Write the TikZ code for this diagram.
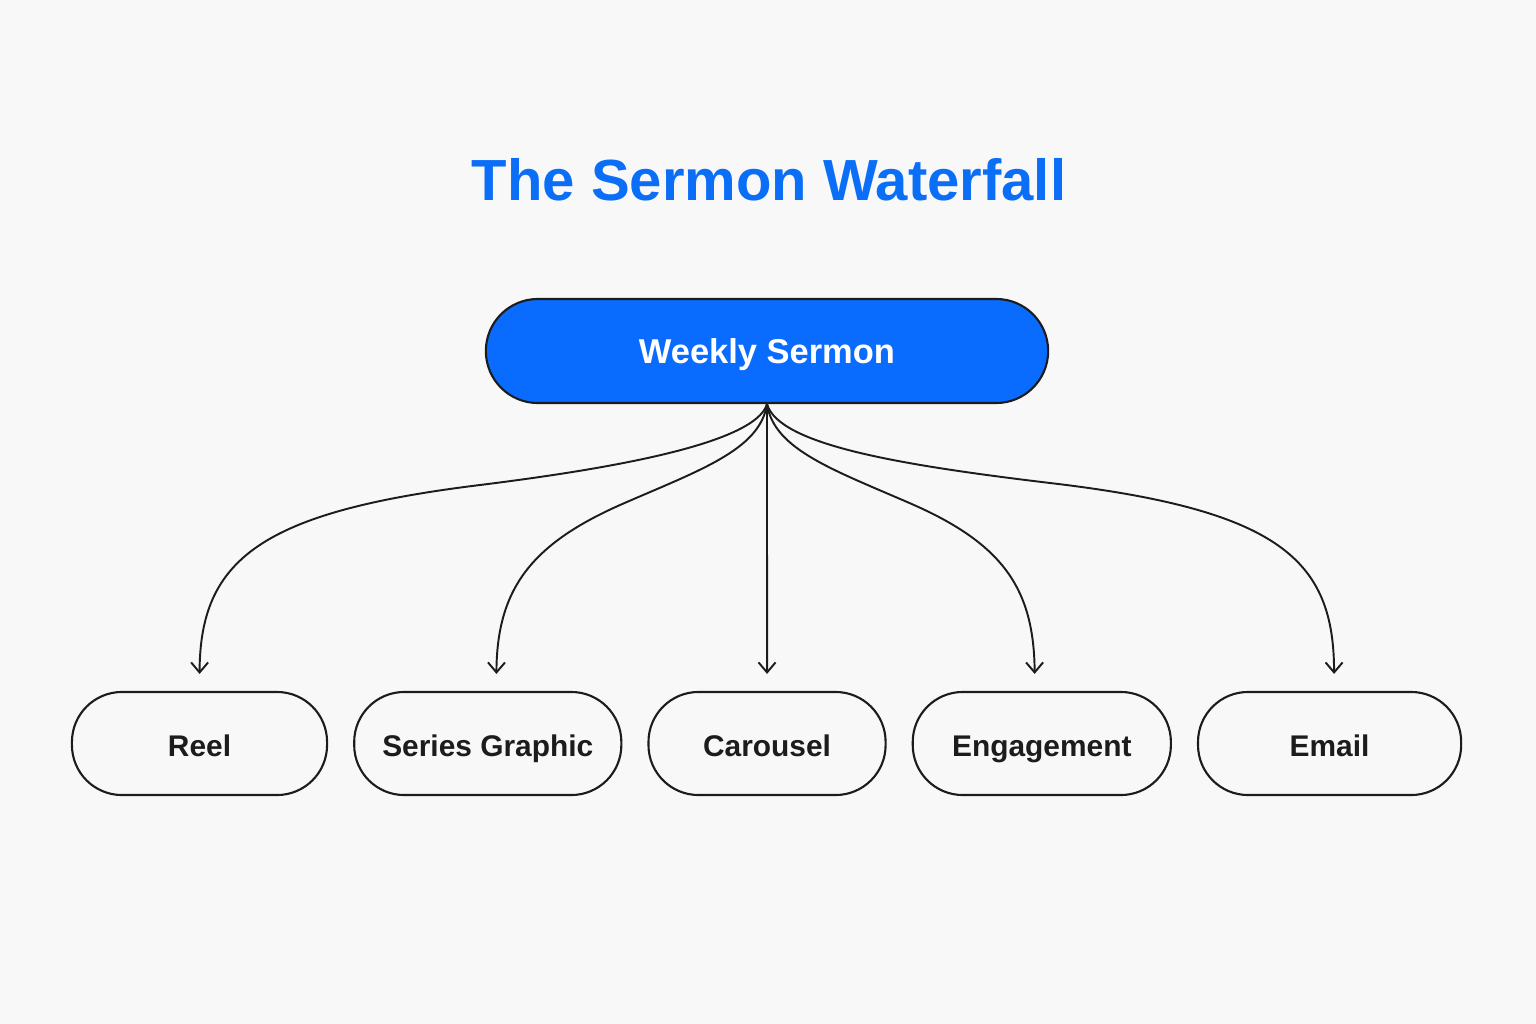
\documentclass[tikz,border=0pt]{standalone}
\usepackage{fontspec}
\setmainfont{Liberation Sans}
\usepackage{xcolor}
\usetikzlibrary{positioning,arrows.meta}
\definecolor{bgpage}{HTML}{F8F8F8}
\definecolor{sermonblue}{HTML}{0A6CFF}
\definecolor{titleblue}{HTML}{0B6EF7}
\definecolor{inkdark}{HTML}{1C1C1C}

\begin{document}
\begin{tikzpicture}[
        x=0.01cm, y=-0.01cm,
        node distance=0.25cm,
        every node/.style={
            rectangle,
            draw=inkdark,
            line width=0.6pt,
            text=inkdark,
            align=center,
            rounded corners=0.5cm,
            minimum height=1.03cm,
            text height=1.38ex,
            text depth=0pt,
            font=\fontsize{8.5}{10}\selectfont\bfseries
        },
        arrow/.style={
            -{Straight Barb[length=1mm,width=1.7mm]},
            line width=0.55pt,
            shorten >=0.17cm,
            color=inkdark
        },
        highlight/.style={
            fill=sermonblue,
            text=white,
            minimum width=5.62cm,
            minimum height=1.04cm,
            rounded corners=0.52cm,
            font=\fontsize{9.8}{12}\selectfont\bfseries
        },
        heading/.style={
            draw=none,
            text=titleblue,
            font=\fontsize{16.5}{20}\selectfont\bfseries
        }
    ]
        \fill[bgpage] (0,0) rectangle (1536,1024);
        \useasboundingbox (0,0) rectangle (1536,1024);

        \node[heading] (title) at (769,188) {The Sermon Waterfall};
        \node[highlight] (ws) at (767,351) {Weekly Sermon};

        \node[minimum width=2.55cm] (reel) at (199.5,743.5) {Reel};
        \node[minimum width=2.67cm] (sg) [right=of reel] {Series Graphic};
        \node[minimum width=2.37cm] (car) [right=of sg] {Carousel};
        \node[minimum width=2.58cm] (eng) [right=of car] {Engagement};
        \node[minimum width=2.63cm] (mail) [right=of eng] {Email};

        \draw[arrow] (ws.south) .. controls (755,445) and (600,470) .. (480,485)
            .. controls (260,512) and (200,560) .. (reel.north);
        \draw[arrow] (ws.south) .. controls (760,450) and (700,470) .. (620,505)
            .. controls (530,545) and (497,590) .. ([xshift=0.085cm]sg.north);
        \draw[arrow] (ws.south) -- (car.north);
        \draw[arrow] (ws.south) .. controls (774,450) and (834,470) .. (914,505)
            .. controls (1004,545) and (1034,590) .. ([xshift=-0.07cm]eng.north);
        \draw[arrow] (ws.south) .. controls (779,445) and (900,465) .. (1050,483)
            .. controls (1280,510) and (1334,560) .. ([xshift=0.045cm]mail.north);
    \end{tikzpicture}
\end{document}
